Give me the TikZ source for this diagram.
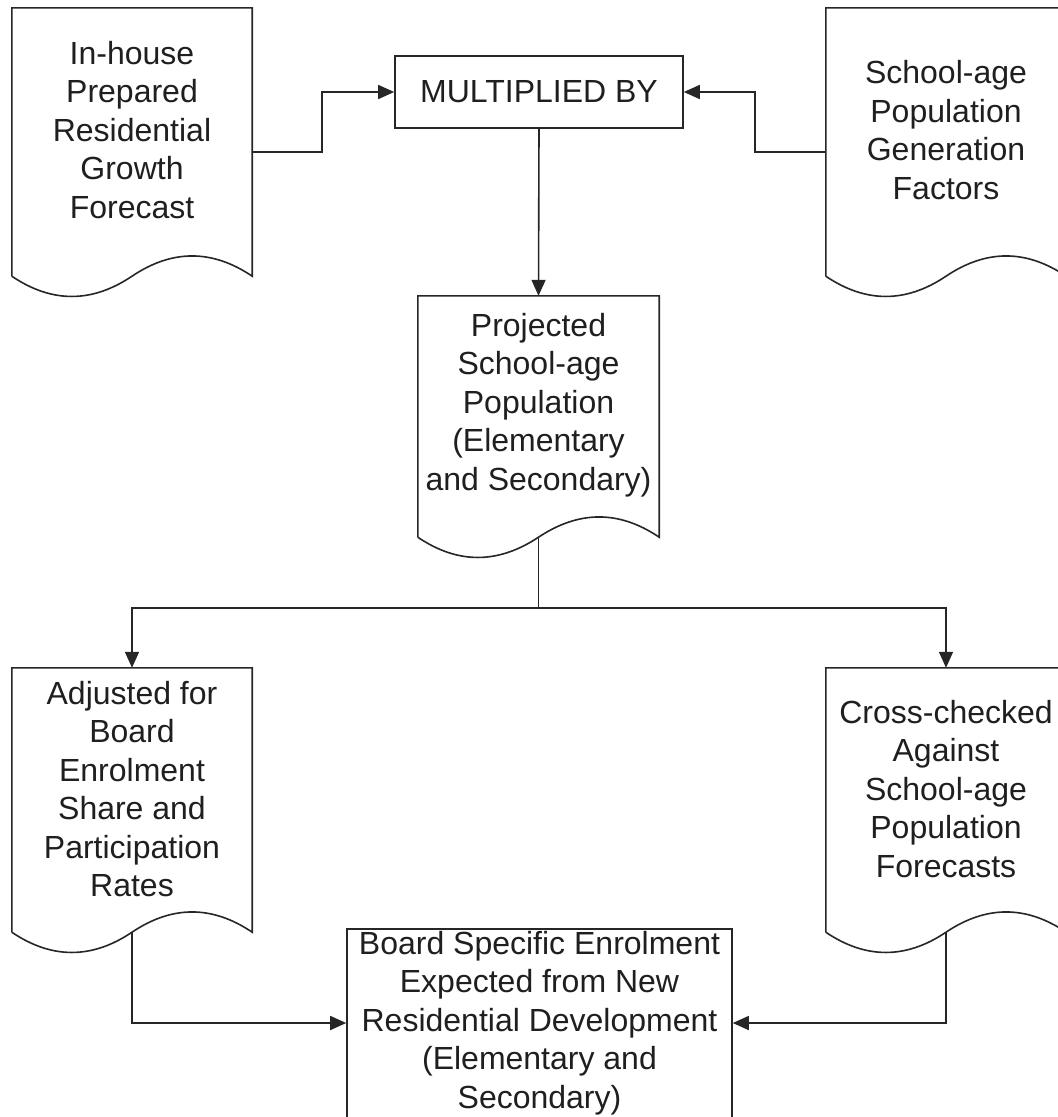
\documentclass[tikz,border=0pt]{standalone}
\usepackage{fontspec}
\setmainfont{Liberation Sans}
\usetikzlibrary{arrows.meta,calc}
\tikzset{
  ln/.style={draw=black!85, line width=1.6pt},
  arr/.style={ln, -{Triangle[length=16pt,width=14pt]}},
  txt/.style={align=center, text=black!88, inner sep=0pt, font=\fontsize{32}{38.5}\selectfont},
  docbox/.style={minimum width=240pt, minimum height=#1, inner sep=0pt},
  procbox/.style={ln, inner sep=0pt, text=black!88, font=\fontsize{32}{38.5}\selectfont}
}
\newcommand\docoutline[1]{%
  \draw[ln, line join=miter] (#1.south west) -- (#1.north west) -- (#1.north east) -- (#1.south east)
    .. controls ($(#1.south east)+(-40,-27)$) and ($(#1.south east)+(-80,-27)$) .. (#1.south)
    .. controls ($(#1.south west)+(80,27)$) and ($(#1.south west)+(40,27)$) .. (#1.south west);%
}
\begin{document}
\begin{tikzpicture}[x=1pt,y=-1pt]
\useasboundingbox (0,0) rectangle (1058,1117);
\clip (0,0) rectangle (1058,1117);
% document shapes
\node[docbox=268pt] (d1) at (132,142) {};
\node[docbox=268pt] (d2) at (946,142) {};
\node[docbox=241pt, minimum width=241pt] (proj) at (538.5,416.5) {};
\node[docbox=264pt] (d3) at (132,800) {};
\node[docbox=264pt] (d4) at (946,800) {};
\docoutline{d1}
\docoutline{d2}
\docoutline{proj}
\docoutline{d3}
\docoutline{d4}
% texts of documents
\node[txt] (t1) at ($(d1.center)+(0,-12)$) {In-house\\Prepared\\Residential\\Growth\\Forecast};
\node[txt] (t2) at ($(d2.center)+(0,-12)$) {School-age\\Population\\Generation\\Factors};
\node[txt] (t3) at ($(proj.center)+(0,-11.5)$) {Projected\\School-age\\Population\\(Elementary\\and Secondary)};
\node[txt] (t4) at ($(d3.center)+(0,-11)$) {Adjusted for\\Board\\Enrolment\\Share and\\Participation\\Rates};
\node[txt] (t5) at ($(d4.center)+(0,-11)$) {Cross-checked\\Against\\School-age\\Population\\Forecasts};
% process boxes
\node[procbox, minimum width=288pt, minimum height=72pt] (mult) at (539,92) {MULTIPLIED BY};
\node[ln, minimum width=385pt, minimum height=200pt, anchor=north, inner sep=0pt] (final) at (539.5,928) {};
\node[txt] (t6) at (539.5,1023) {Board Specific Enrolment\\Expected from New\\Residential Development\\(Elementary and\\Secondary)};
% connectors
\draw[arr] ($(d1.east)+(0,10)$) -- ++(70,0) |- (mult.west);
\draw[arr] ($(d2.west)+(0,10)$) -- ++(-71,0) |- (mult.east);
\draw[arr] (mult.south) -- (proj.north);
\draw[arr] (proj.south) -- ++(0,71) -| (d3.north);
\draw[arr] (proj.south) -- ++(0,71) -| (d4.north);
\coordinate (fin) at ($(final.north west)+(0,95)$);
\coordinate (fine) at ($(final.north east)+(0,95)$);
\draw[arr] (d3.south) |- (fin);
\draw[arr] (d4.south) |- (fine);
\end{tikzpicture}
\end{document}
